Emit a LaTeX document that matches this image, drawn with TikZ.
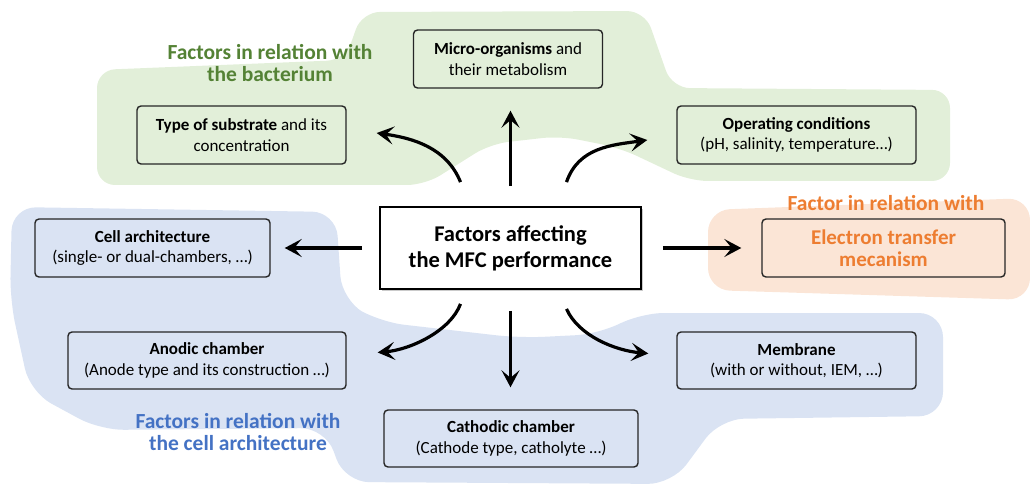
\documentclass[tikz,border=0pt]{standalone}
\usepackage{fontspec}
\setmainfont{Carlito}
\usetikzlibrary{arrows.meta,calc,shadows}
\definecolor{gfill}{HTML}{E2EFD9}
\definecolor{bfill}{HTML}{DAE3F3}
\definecolor{ofill}{HTML}{FBE5D6}
\definecolor{gtext}{HTML}{548235}
\definecolor{btext}{HTML}{4472C4}
\definecolor{otext}{HTML}{ED7D31}
\definecolor{boxline}{HTML}{262626}
\tikzset{
  box/.style={draw=boxline, line width=1.4pt, rounded corners=4pt, align=center,
    inner sep=0pt, font=\fontsize{17}{20.5}\selectfont},
  gbox/.style={box, fill=gfill},
  bbox/.style={box, fill=bfill},
  obox/.style={box, fill=ofill, text=otext, font=\fontsize{21}{22}\selectfont\bfseries},
  mainbox/.style={draw=black, line width=1.8pt, fill=white, align=center, inner sep=0pt,
    font=\fontsize{22.5}{26}\selectfont\bfseries,
    drop shadow={shadow xshift=2pt, shadow yshift=-2pt, opacity=0.35, fill=black!60}},
  lab/.style={align=center, inner sep=0pt, font=\fontsize{21.5}{22}\selectfont\bfseries},
  arr/.style={line width=3.2pt, -{Stealth[length=17pt,width=18pt,inset=7.5pt]}}
}
\begin{document}
\begin{tikzpicture}[x=1pt,y=-1pt]
\useasboundingbox (0,0) rectangle (1030,486);
% background blobs
\fill[gfill, rounded corners=18pt] (97,70) -- (345,60) -- (362,12) -- (645,11) -- (672,88)
  -- (950,90) -- (950,181) -- (690,181) -- (620,148) -- (560,136) -- (490,144)
  -- (425,185) -- (97,185) -- cycle;
\fill[bfill, rounded corners=24pt] (12,207) -- (336,212) -- (342,300) -- (380,322)
  -- (520,338) -- (600,334) -- (640,313) -- (943,313) -- (943,416) -- (720,419)
  -- (672,484) -- (345,482) -- (325,428) -- (100,430) -- (30,392) -- (10,300) -- cycle;
\fill[ofill, rounded corners=22pt] (708,210) -- (1030,198) -- (1030,300) -- (708,290) -- cycle;
% labels
\node[lab, text=gtext] (glab) at (270,63) {Factors in relation with\\the bacterium};
\node[lab, text=btext] (blab) at (238,432) {Factors in relation with\\the cell architecture};
\node[lab, text=otext] (olab) at (886,203) {Factor in relation with};
% boxes
\node[gbox, minimum width=189pt, minimum height=58pt] (micro) at (508,59)
  {\textbf{Micro-organisms} and\\their metabolism};
\node[gbox, minimum width=209pt, minimum height=58pt] (sub) at (241.5,135)
  {\textbf{Type of substrate} and its\\concentration};
\node[gbox, minimum width=239pt, minimum height=58pt] (oper) at (796.5,135)
  {\textbf{Operating conditions}\\(pH, salinity, temperature…)};
\node[mainbox, minimum width=261pt, minimum height=82pt] (main) at (510.5,248)
  {Factors affecting\\the MFC performance};
\node[bbox, minimum width=235pt, minimum height=58pt] (cell) at (152.5,248)
  {\textbf{Cell architecture}\\(single- or dual-chambers, …)};
\node[obox, minimum width=243pt, minimum height=58pt] (elec) at (883.5,248)
  {Electron transfer\\mecanism};
\node[bbox, minimum width=278pt, minimum height=57pt] (anod) at (207,360.5)
  {\textbf{Anodic chamber}\\(Anode type and its construction …)};
\node[bbox, minimum width=239pt, minimum height=57pt] (memb) at (796.5,360.5)
  {\textbf{Membrane}\\(with or without, IEM, …)};
\node[bbox, minimum width=254pt, minimum height=57pt] (cath) at (511,438.5)
  {\textbf{Cathodic chamber}\\(Cathode type, catholyte …)};
% arrows
\draw[arr, shorten <=20pt, shorten >=22pt] (main.north) -- (main.north |- micro.south);
\draw[arr, shorten <=21pt, shorten >=22pt] (main.south) -- (main.south |- cath.north);
\draw[arr, shorten <=17pt, shorten >=14pt] (main.west) -- (main.west -| cell.east);
\draw[arr, shorten <=21pt, shorten >=20pt] (main.east) -- (main.east -| elec.west);
\draw[arr] ($(main.north)+(-50,-24)$) .. controls +(-14,-35) and +(35,5) .. ($(sub.east)+(30,-2)$);
\draw[arr] ($(main.north)+(56,-24)$) .. controls +(12,-35) and +(-35,5) .. ($(oper.west)+(-29,5)$);
\draw[arr] ($(main.south)+(-50,14)$) .. controls +(-10,27) and +(33,-3) .. ($(anod.east)+(31,-8)$);
\draw[arr] ($(main.south)+(56,19)$) .. controls +(12,27) and +(-33,-3) .. ($(memb.west)+(-28,-7)$);
\end{tikzpicture}
\end{document}
